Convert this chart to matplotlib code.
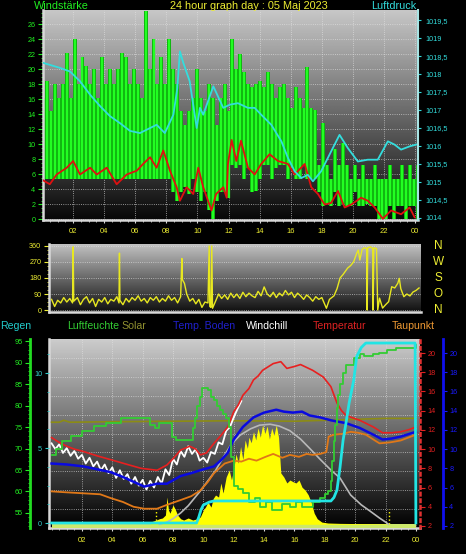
import numpy as np
import matplotlib
matplotlib.use('Agg')
import matplotlib.pyplot as plt
from matplotlib.ticker import MultipleLocator

plt.rcParams['font.family'] = ['Liberation Sans', 'DejaVu Sans']

# ---------------- data ----------------
# wind gusts (15 min slots): lower and upper edge of the green band
gust_hi = [16.2, 18.4, 14.4, 18.0, 16.2, 18.0, 22.2, 16.2,
           24.0, 18.0, 21.6, 20.4, 18.0, 20.0, 16.2, 21.6,
           18.0, 20.0, 18.0, 20.0, 22.2, 21.6, 18.0, 20.0,
           18.0, 16.2, 27.8, 20.0, 24.0, 18.0, 21.6, 18.0,
           24.0, 20.0, 18.0, 14.4, 12.6, 14.4, 16.2, 20.0,
           16.2, 14.4, 18.0, 16.2, 12.6, 16.2, 18.0, 14.4,
           24.0, 20.0, 22.0, 19.6, 18.0, 17.6, 18.0, 18.5,
           17.6, 19.6, 18.0, 16.2, 17.6, 18.0, 16.2, 14.9,
           17.6, 16.2, 14.9, 20.3, 14.9, 14.6, 7.2, 12.9,
           7.2, 5.4, 9.4, 7.2, 10.2, 7.2, 5.4, 7.2,
           5.4, 7.2, 5.4, 5.4, 7.2, 5.4, 5.4, 5.4,
           7.2, 5.4, 5.4, 7.2, 5.4, 7.2, 5.4, 7.2]
gust_lo = [5.4, 5.4, 5.4, 5.4, 5.4, 5.4, 5.4, 5.4,
           5.4, 5.4, 5.4, 5.4, 5.4, 5.4, 5.4, 5.4,
           5.4, 5.4, 5.4, 5.4, 5.4, 5.4, 5.4, 5.4,
           5.4, 5.4, 5.4, 5.4, 5.4, 5.4, 5.4, 5.4,
           5.4, 3.6, 2.5, 3.6, 4.3, 3.4, 5.4, 3.6,
           2.5, 3.6, 1.2, 0.0, 2.5, 3.6, 3.6, 2.9,
           7.2, 6.9, 7.2, 5.4, 6.9, 3.6, 3.8, 5.4,
           7.2, 7.2, 5.4, 6.9, 7.2, 7.2, 5.4, 6.9,
           5.4, 5.4, 7.2, 5.4, 5.4, 5.4, 3.6, 1.8,
           2.0, 1.8, 3.6, 1.8, 2.0, 1.8, 1.8, 3.6,
           1.8, 1.8, 2.0, 1.8, 1.8, 0.0, 0.0, 0.0,
           1.8, 0.0, 1.8, 1.8, 0.0, 1.8, 1.8, 0.0]

# mean wind (red)
wavg_t = [0.08, 0.5, 0.94, 1.59, 2.0, 2.44, 3.09, 3.52, 4.16, 4.8,
          5.45, 6.09, 6.5, 6.95, 7.37, 7.8, 8.23, 8.66, 8.87, 9.3,
          9.73, 10.05, 10.37, 10.9, 11.2, 11.66, 11.88, 11.96, 12.2, 12.5,
          12.8, 13.25, 13.68, 14.1, 14.64, 15.18, 15.82, 16.25, 16.9, 17.32,
          17.75, 18.18, 18.6, 19.04, 19.47, 19.9, 20.53, 20.96, 21.4, 21.93,
          22.46, 23.1, 23.65, 23.97]
wavg = [5.2, 4.7, 6.0, 6.9, 7.8, 6.0, 6.9, 6.0, 6.9, 4.7,
        6.0, 6.5, 7.4, 8.3, 6.9, 9.2, 6.5, 4.3, 2.5, 4.3,
        3.4, 6.9, 4.3, 1.2, 3.4, 4.3, 2.9, 7.4, 10.6, 7.8,
        10.5, 6.9, 6.0, 7.4, 8.7, 7.8, 7.4, 6.0, 7.4, 4.3,
        3.4, 2.0, 2.2, 3.8, 1.6, 2.0, 2.9, 2.5, 1.6, 0.1,
        1.2, 0.7, 1.6, 0.3]

# air pressure (cyan)
press_t = [0.08, 1.16, 1.8, 2.44, 3.1, 3.73, 4.37, 5.0, 5.66, 6.3,
           6.95, 7.37, 7.9, 8.45, 8.7, 8.87, 9.09, 9.5, 9.95, 10.16,
           10.37, 11.02, 11.66, 12.09, 12.6, 13.25, 13.68, 14.1, 14.75, 15.4,
           15.82, 16.25, 16.68, 17.1, 17.43, 17.96, 18.6, 19.14, 19.68, 20.32,
           20.96, 21.6, 22.25, 22.68, 23.1, 23.65, 24.07]
press = [1018.31, 1018.17, 1018.07, 1017.8, 1017.42, 1017.11, 1016.83, 1016.64, 1016.42, 1016.36,
         1016.5, 1016.59, 1016.36, 1016.87, 1017.6, 1018.63, 1018.31, 1017.8, 1016.5, 1017.06,
         1016.87, 1017.66, 1017.06, 1017.15, 1017.19, 1017.06, 1017.06, 1016.87, 1016.59, 1016.13,
         1015.67, 1015.3, 1015.11, 1015.2, 1015.02, 1015.3, 1015.85, 1016.31, 1015.94, 1015.57,
         1015.62, 1015.62, 1016.13, 1016.04, 1015.9, 1015.99, 1016.04]

# wind direction (degrees)
dir_t = [0.0, 0.2, 0.4, 0.6, 0.8, 1.0, 1.2, 1.38, 1.42, 1.46,
         1.7, 1.9, 2.1, 2.3, 2.5, 2.7, 2.9, 3.1, 3.3, 3.5,
         3.7, 3.9, 4.1, 4.3, 4.44, 4.47, 4.5, 4.7, 4.9, 5.1,
         5.3, 5.5, 5.7, 5.9, 6.1, 6.3, 6.5, 6.7, 6.9, 7.1,
         7.3, 7.5, 7.7, 7.9, 8.1, 8.3, 8.5, 8.58, 8.62, 8.75,
         8.9, 9.1, 9.3, 9.5, 9.7, 9.9, 10.1, 10.3, 10.38, 10.42,
         10.5, 10.55, 10.6, 10.8, 11.0, 11.2, 11.4, 11.6, 11.8, 12.0,
         12.2, 12.4, 12.6, 12.8, 13.0, 13.2, 13.4, 13.6, 13.8, 14.0,
         14.2, 14.4, 14.6, 14.8, 15.0, 15.2, 15.4, 15.6, 15.8, 16.0,
         16.2, 16.4, 16.6, 16.8, 17.0, 17.2, 17.4, 17.6, 17.8, 18.0,
         18.1, 18.3, 18.6, 18.8, 19.0, 19.2, 19.5, 19.7, 19.9, 20.1,
         20.2, 20.3, 20.45, 20.6, 20.75, 20.78, 20.82, 21.0, 21.15, 21.18,
         21.22, 21.4, 21.48, 21.6, 21.8, 22.0, 22.2, 22.4, 22.6, 22.8,
         22.9, 23.0, 23.2, 23.4, 23.6, 23.8, 24.0, 24.2]
dir_deg = [60, 20, 55, 40, 70, 45, 65, 40, 355, 50,
           70, 30, 60, 75, 40, 65, 20, 60, 45, 70,
           35, 60, 50, 75, 40, 320, 55, 30, 65, 45,
           70, 55, 80, 50, 65, 40, 70, 55, 75, 45,
           65, 50, 80, 55, 70, 40, 75, 290, 170, 150,
           90, 50, 65, 35, 60, 15, 45, 40, 360, 20,
           15, 360, 10, 50, 90, 65, 85, 60, 95, 70,
           90, 65, 100, 75, 95, 80, 70, 105, 80, 130,
           90, 75, 100, 70, 95, 80, 110, 85, 100, 70,
           95, 80, 60, 85, 70, 50, 75, 60, 70, 30,
           10, 60, 80, 120, 180, 200, 236, 250, 272, 320,
           337, 281, 340, 350, 345, 0, 350, 355, 345, 0,
           350, 345, 0, 67, 11, 30, 47, 131, 124, 150,
           178, 120, 75, 90, 79, 101, 110, 124]

# temperature (red)
temp_t = [0.0, 0.5, 1.0, 1.5, 2.1, 3.0, 3.9, 5.0, 5.9, 6.95,
          7.6, 8.0, 8.5, 9.1, 9.5, 9.8, 10.2, 10.7, 11.2, 11.6,
          12.0, 12.3, 12.6, 13.0, 13.3, 13.6, 13.9, 14.3, 14.6, 15.1,
          15.5, 16.0, 16.4, 16.8, 17.2, 17.9, 18.4, 18.8, 19.1, 19.4,
          20.3, 21.2, 21.8, 22.4, 23.0, 23.5, 24.0]
temp = [11.2, 10.7, 10.3, 10.0, 9.75, 9.3, 8.9, 8.4, 8.0, 7.8,
        8.35, 9.0, 9.9, 10.3, 10.0, 9.4, 9.6, 10.6, 11.5, 12.3,
        13.9, 14.6, 15.6, 16.3, 17.2, 17.6, 18.2, 18.6, 18.9, 19.1,
        18.4, 18.6, 18.8, 18.5, 18.2, 17.5, 16.5, 14.8, 14.0, 13.5,
        13.0, 12.3, 11.7, 11.7, 11.8, 12.0, 12.3]

# windchill (white), every 15 min until it joins the temperature
windchill = [10.6, 10.0, 10.5, 9.6, 10.1, 9.3, 9.8, 9.0, 9.4, 8.5,
             9.1, 8.2, 8.7, 7.8, 8.4, 7.5, 8.1, 7.0, 7.8, 6.9,
             7.4, 6.4, 7.1, 6.2, 6.8, 5.8, 6.7, 6.0, 7.1, 6.4,
             7.9, 7.3, 9.0, 8.4, 9.8, 9.2, 10.3, 9.5, 10.0, 8.8,
             9.1, 8.6, 9.7, 9.5, 10.7, 10.5, 11.9, 12.3, 13.3, 14.2,
             15.0]

# soil temperature (blue)
boden_t = [0.0, 1.0, 2.1, 3.0, 3.9, 4.7, 5.4, 6.1, 6.95, 7.6,
           8.5, 9.2, 9.8, 10.7, 11.2, 11.6, 12.0, 12.6, 13.3, 14.0,
           14.8, 15.3, 15.9, 16.5, 17.0, 17.7, 18.4, 19.4, 20.3, 21.2,
           21.8, 22.4, 23.0, 24.0]
boden = [8.5, 8.4, 8.2, 7.9, 7.6, 7.1, 6.6, 6.1, 6.4, 6.4,
         7.2, 7.5, 7.8, 8.2, 8.9, 9.6, 11.0, 12.3, 13.3, 13.8,
         14.1, 13.9, 13.8, 13.9, 13.5, 13.3, 13.0, 12.7, 12.2, 11.5,
         11.0, 11.1, 11.3, 11.8]

# dew point (orange)
dew_t = [0.0, 1.0, 2.1, 3.2, 3.9, 4.7, 5.4, 6.1, 6.95, 7.6,
         8.5, 9.2, 9.8, 10.3, 10.7, 11.4, 12.0, 12.5, 13.0, 13.5,
         14.1, 14.6, 15.2, 15.7, 16.3, 16.8, 17.2, 17.7, 18.1, 18.25,
         18.6, 19.2, 19.7, 20.2, 20.7, 21.2, 21.6, 22.3, 23.0, 23.5,
         24.0]
dew = [5.6, 5.5, 5.4, 5.3, 4.9, 4.5, 4.0, 3.8, 3.8, 4.2,
       4.7, 5.1, 5.7, 6.6, 7.5, 8.5, 8.8, 8.7, 9.0, 8.8,
       9.2, 9.5, 9.1, 9.4, 9.2, 9.5, 9.4, 9.5, 9.7, 11.3,
       11.5, 11.6, 11.8, 11.7, 11.5, 11.0, 10.6, 10.7, 10.9, 11.2,
       11.5]

# olive level line (temperature scale)
olive_t = [0.0, 0.5, 0.8, 1.2, 4.0, 8.0, 12.0, 16.0, 18.0, 20.0, 22.0, 24.0]
olive = [12.8, 12.8, 13.0, 12.8, 12.85, 12.9, 12.95, 12.9, 13.0, 13.1, 13.2, 13.2]

# humidity (%)
hum_t = [0.0, 0.3, 0.7, 1.3, 2.0, 2.8, 3.6, 4.6, 6.5, 6.8,
         7.1, 7.9, 8.2, 9.3, 9.45, 9.6, 9.75, 9.9, 10.3, 10.5,
         10.7, 10.9, 11.1, 11.3, 11.5, 11.7, 11.85, 12.0, 12.3, 12.6,
         13.0, 13.4, 13.7, 14.1, 14.5, 14.8, 15.2, 15.7, 16.1, 16.5,
         16.8, 17.2, 17.7, 18.0, 18.2, 18.4, 18.5, 18.6, 18.7, 18.8,
         18.9, 19.0, 19.2, 19.4, 19.9, 20.3, 20.6, 21.2, 21.6, 22.1,
         22.7, 24.0]
hum = [68.5, 70.0, 71.7, 73.0, 74.1, 75.3, 76.0, 77.0, 75.4, 74.7,
       76.0, 72.7, 72.0, 74.7, 77.0, 80.0, 82.0, 84.0, 83.6, 82.0,
       81.3, 80.0, 79.0, 78.0, 77.0, 75.0, 68.0, 61.2, 60.5, 59.6,
       57.5, 58.5, 56.4, 57.5, 55.7, 55.7, 57.0, 56.4, 57.5, 56.4,
       56.4, 57.5, 58.4, 59.5, 60.0, 62.5, 67.0, 71.7, 75.5, 79.4,
       82.5, 84.9, 87.5, 89.5, 91.0, 92.0, 91.5, 92.0, 92.3, 92.8,
       93.3, 94.0]

# rain (mm, cumulative)
rain_t = [0.0, 9.55, 9.7, 9.85, 10.0, 10.4, 10.7, 18.4, 18.6, 18.8,
          19.0, 19.2, 19.4, 19.6, 19.9, 20.1, 20.4, 20.7, 23.95, 24.0]
rain = [0.0, 0.0, 0.4, 0.9, 1.2, 1.4, 1.47, 1.47, 1.7, 2.2,
        3.7, 5.5, 6.7, 8.0, 9.5, 11.1, 11.7, 12.0, 12.0, 0.0]

# solar radiation (W/m2) and clear-sky curve
sol_t = [0.0, 6.5, 6.6, 6.9, 7.1, 7.3, 7.5, 7.6, 7.7, 7.8,
         8.0, 8.15, 8.3, 8.5, 8.7, 9.0, 9.3, 9.6, 9.8, 10.0,
         10.15, 10.3, 10.5, 10.65, 10.8, 11.0, 11.15, 11.3, 11.5, 11.7,
         11.85, 12.0, 12.15, 12.3, 12.45, 12.6, 12.75, 12.9, 13.0, 13.15,
         13.3, 13.45, 13.6, 13.75, 13.9, 14.05, 14.2, 14.35, 14.5, 14.65,
         14.8, 14.95, 15.1, 15.3, 15.5, 15.7, 15.9, 16.1, 16.3, 16.5,
         16.7, 16.9, 17.1, 17.3, 17.5, 17.8, 18.2, 19.0, 20.0, 21.0,
         22.0, 22.3, 24.0]
sol = [0, 0, 15, 23, 30, 34, 50, 147, 77, 60,
       104, 80, 50, 30, 23, 34, 23, 30, 40, 77,
       95, 120, 93, 140, 158, 147, 223, 169, 255, 293,
       240, 300, 380, 330, 420, 350, 455, 410, 470, 440,
       500, 455, 520, 470, 536, 490, 530, 460, 520, 480,
       536, 470, 277, 255, 223, 239, 230, 223, 239, 200,
       185, 160, 120, 60, 30, 12, 7, 5, 4, 3,
       2, 0, 0]
clear_t = [7.1, 7.6, 8.0, 8.5, 9.0, 9.5, 9.8, 10.3, 10.8, 11.3,
           11.8, 12.4, 13.1, 13.7, 14.4, 15.0, 15.7, 16.4, 17.0, 17.7,
           18.4, 19.0, 19.7, 20.4, 21.0, 21.6, 22.0, 22.2]
clear = [0, 12, 30, 61, 100, 150, 180, 235, 290, 360,
         428, 480, 515, 535, 540, 530, 505, 460, 410, 350,
         293, 250, 158, 105, 70, 34, 12, 0]
sun_marks = [6.85, 22.2]

hour_ticks = list(range(2, 25, 2))
hour_labels = ['%02d' % (h % 24) for h in hour_ticks]

# ---------------- helpers ----------------
W, H = 466, 554
LIGHT = '#d8d8d8'
YEL = '#eeee33'


def gradient(ax, top, bottom):
    x0, x1 = ax.get_xlim()
    y0, y1 = ax.get_ylim()
    g = np.linspace(top, bottom, 256).reshape(-1, 1)
    ax.imshow(g, cmap='gray', vmin=0, vmax=1, aspect='auto',
              extent=(x0, x1, y0, y1), origin='upper', zorder=0)
    ax.set_xlim(x0, x1)
    ax.set_ylim(y0, y1)


def only_spines(ax, keep):
    for name, sp in ax.spines.items():
        sp.set_visible(name in keep)


fig = plt.figure(figsize=(W / 100, H / 100), dpi=100, facecolor='black')

# ---------------- panel 1: wind + pressure ----------------
ax1 = fig.add_axes([43 / W, 1 - 220 / H, 375 / W, 210 / H])
ax1.set_xlim(0.06, 24.19)
ax1.set_ylim(-0.07, 27.93)
gradient(ax1, 0.78, 0.03)
gust_t = np.linspace(0.06, 24.19, len(gust_hi))
ax1.fill_between(gust_t, gust_lo, gust_hi, step='mid', color='#10b010', lw=0, zorder=2)
ax1.vlines(gust_t, gust_lo, gust_hi, colors='#22ff22', lw=1.6, zorder=2)
ax1.plot(wavg_t, wavg, color='#e01010', lw=1.3, zorder=3)
ax1.set_xticks(hour_ticks)
ax1.set_xticklabels(hour_labels)
ax1.set_yticks(range(0, 27, 2))
ax1.xaxis.set_minor_locator(MultipleLocator(0.5))
ax1.yaxis.set_minor_locator(MultipleLocator(0.5))
ax1.tick_params(axis='x', which='major', colors=LIGHT, labelcolor=YEL, labelsize=5.5,
                length=2.5, width=0.8, pad=3.5)
ax1.tick_params(axis='x', which='minor', colors=LIGHT, length=1.5, width=0.6)
ax1.tick_params(axis='y', which='major', colors='#22ee22', labelsize=5.2, length=3.5,
                width=0.8, pad=2)
ax1.tick_params(axis='y', which='minor', colors='#22ee22', length=1.8, width=0.6)
ax1.grid(True, color='#e4e4e4', ls=':', lw=0.6, alpha=0.8)
only_spines(ax1, ['left', 'bottom'])
for s in ['left', 'bottom']:
    ax1.spines[s].set_color(LIGHT)
    ax1.spines[s].set_linewidth(1.8)

ax1p = ax1.twinx()
ax1p.set_ylim(1013.944, 1019.78)
ax1p.plot(press_t, press, color='#33dddd', lw=1.3)
p_ticks = np.arange(1014, 1019.51, 0.5)
ax1p.set_yticks(p_ticks)
ax1p.set_yticklabels([('%g' % v).replace('.', ',') for v in p_ticks])
ax1p.tick_params(axis='y', colors='#33dddd', labelsize=5.2, length=2.5, width=0.8, pad=2.5)
only_spines(ax1p, ['right'])
ax1p.spines['right'].set_color('#a8e4e4')
ax1p.spines['right'].set_linewidth(1.5)

fig.text(34 / W, 1 - 6 / H, 'Windstärke', color='#22ee22', fontsize=7.8, va='center', ha='left')
fig.text(249 / W, 1 - 6 / H, '24 hour graph day : 05 Maj 2023', color=YEL, fontsize=7.8,
         va='center', ha='center')
fig.text(371 / W, 1 - 6 / H, 'Luftdruck', color='#33dddd', fontsize=7.8, va='center', ha='left')

# ---------------- panel 2: wind direction ----------------
ax2 = fig.add_axes([49 / W, 1 - 312 / H, 372 / W, 68 / H])
ax2.set_xlim(-0.17, 24.33)
ax2.set_ylim(-11, 371)
gradient(ax2, 0.76, 0.06)
ax2.plot(dir_t, dir_deg, color='#e8e820', lw=1.0, zorder=3)
ax2.set_xticks([])
ax2.set_yticks([0, 90, 180, 270, 360])
ax2.yaxis.set_minor_locator(MultipleLocator(22.5))
ax2.tick_params(axis='y', which='major', colors=YEL, labelsize=5.2, length=3.5, width=0.8, pad=2)
ax2.tick_params(axis='y', which='minor', colors=YEL, length=1.8, width=0.6)
ax2.yaxis.grid(True, color='#e4e4e4', ls=':', lw=0.6, alpha=0.8)
only_spines(ax2, ['left', 'bottom'])
for s in ['left', 'bottom']:
    ax2.spines[s].set_color(LIGHT)
    ax2.spines[s].set_linewidth(1.8)
for lbl, deg in zip(['N', 'W', 'S', 'O', 'N'], [360, 270, 180, 90, 0]):
    ax2.text(1.046, deg, lbl, transform=ax2.get_yaxis_transform(), color=YEL,
             fontsize=8.5, ha='center', va='center')

# ---------------- panel 3: temperatures, humidity, rain, solar ----------------
ax3 = fig.add_axes([49 / W, 1 - 528 / H, 371 / W, 189 / H])
ax3.set_xlim(-0.17, 24.27)
ax3.set_ylim(0, 10)
gradient(ax3, 0.80, 0.0)
ax3.set_xticks(hour_ticks)
ax3.set_xticklabels(hour_labels)
ax3.xaxis.set_minor_locator(MultipleLocator(0.5))
ax3.set_yticks(range(1, 10))
ax3.tick_params(axis='y', length=0, labelleft=False)
ax3.tick_params(axis='x', which='major', colors=LIGHT, labelcolor=YEL, labelsize=5.5,
                length=2.5, width=0.8, pad=4)
ax3.tick_params(axis='x', which='minor', colors=LIGHT, length=1.5, width=0.6)
ax3.grid(True, color='#e4e4e4', ls=':', lw=0.6, alpha=0.8)
only_spines(ax3, ['left', 'bottom'])
for s in ['left', 'bottom']:
    ax3.spines[s].set_color(LIGHT)
    ax3.spines[s].set_linewidth(1.8)

# solar
ax_s = ax3.twinx()
ax_s.set_ylim(-20, 1000)
ax_s.fill_between(sol_t, -18, 0, color='#cce86a', lw=0)
ax_s.fill_between(sol_t, 0, sol, color='#ffff00', lw=0)
ax_s.vlines(sun_marks, 0, 80, colors='#ffff00', linestyles=':', lw=1)
ax_s.plot(clear_t, clear, color='#b8b8b8', lw=1.2)
ax_s.set_yticks([])
only_spines(ax_s, [])

# temperature scale (red, right)
ax_t = ax3.twinx()
ax_t.set_ylim(1.79, 21.46)
ax_t.plot(olive_t, olive, color='#8c8c14', lw=1.2)
ax_t.plot(np.arange(len(windchill)) * 0.25, windchill, color='white', lw=1.3)
ax_t.plot(dew_t, dew, color='#e07818', lw=1.3)
ax_t.plot(boden_t, boden, color='#0a0ae0', lw=1.8)
ax_t.plot(temp_t, temp, color='#e82020', lw=1.2)
ax_t.set_yticks(range(2, 21, 2))
ax_t.tick_params(axis='y', colors='#e02020', labelsize=5.2, length=3.5, width=0.8, pad=2)
only_spines(ax_t, ['right'])
ax_t.spines['right'].set_color('#e03030')
ax_t.spines['right'].set_linestyle(':')
ax_t.spines['right'].set_linewidth(1.8)

# soil temperature scale (blue, far right)
ax_b = ax3.twinx()
ax_b.set_ylim(1.79, 21.46)
ax_b.set_yticks(range(2, 21, 2))
ax_b.tick_params(axis='y', colors='#1a1aff', labelsize=5.2, length=3, width=0.8, pad=1.5)
only_spines(ax_b, ['right'])
ax_b.spines['right'].set_position(('axes', (443 - 49) / 371))
ax_b.spines['right'].set_color('#1010ee')
ax_b.spines['right'].set_linewidth(2)

# humidity (green, far left)
ax_h = ax3.twinx()
ax_h.set_ylim(51.51, 95.47)
ax_h.plot(hum_t, hum, drawstyle='steps-post', color='#33cc33', lw=1.3)
ax_h.yaxis.tick_left()
ax_h.yaxis.set_label_position('left')
ax_h.set_yticks(range(55, 96, 5))
ax_h.yaxis.set_minor_locator(MultipleLocator(1))
ax_h.tick_params(axis='y', which='major', colors='#22ee22', labelsize=5.2, length=3.5,
                 width=0.8, pad=2)
ax_h.tick_params(axis='y', which='minor', colors='#22ee22', length=1.8, width=0.6)
only_spines(ax_h, ['left'])
ax_h.spines['left'].set_position(('axes', -19 / 371))
ax_h.spines['left'].set_color('#22dd22')
ax_h.spines['left'].set_linewidth(2)

# rain (cyan, left)
ax_r = ax3.twinx()
ax_r.set_ylim(-0.333, 12.27)
ax_r.plot(rain_t, rain, color='#22e4e4', lw=2)
ax_r.yaxis.tick_left()
ax_r.set_yticks([0, 5, 10])
ax_r.yaxis.set_minor_locator(MultipleLocator(1.25))
ax_r.tick_params(axis='y', which='major', colors='#33cccc', labelsize=5.2, length=3,
                 width=0.8, pad=2)
ax_r.tick_params(axis='y', which='minor', colors='#33cccc', length=1.8, width=0.6)
only_spines(ax_r, [])

headers = [('Regen', 0, '#22cccc'), ('Luftfeuchte', 67, '#33cc33'), ('Solar', 121, '#909030'),
           ('Temp. Boden', 173, '#2020cc'), ('Windchill', 246, 'white'),
           ('Temperatur', 313, '#dd2222'), ('Taupunkt', 392, '#ee9933')]
for txt, x, c in headers:
    fig.text(x / W, 1 - 326 / H, txt, color=c, fontsize=7.6, va='center', ha='left')

fig.savefig('out.png', dpi=100, facecolor='black')
